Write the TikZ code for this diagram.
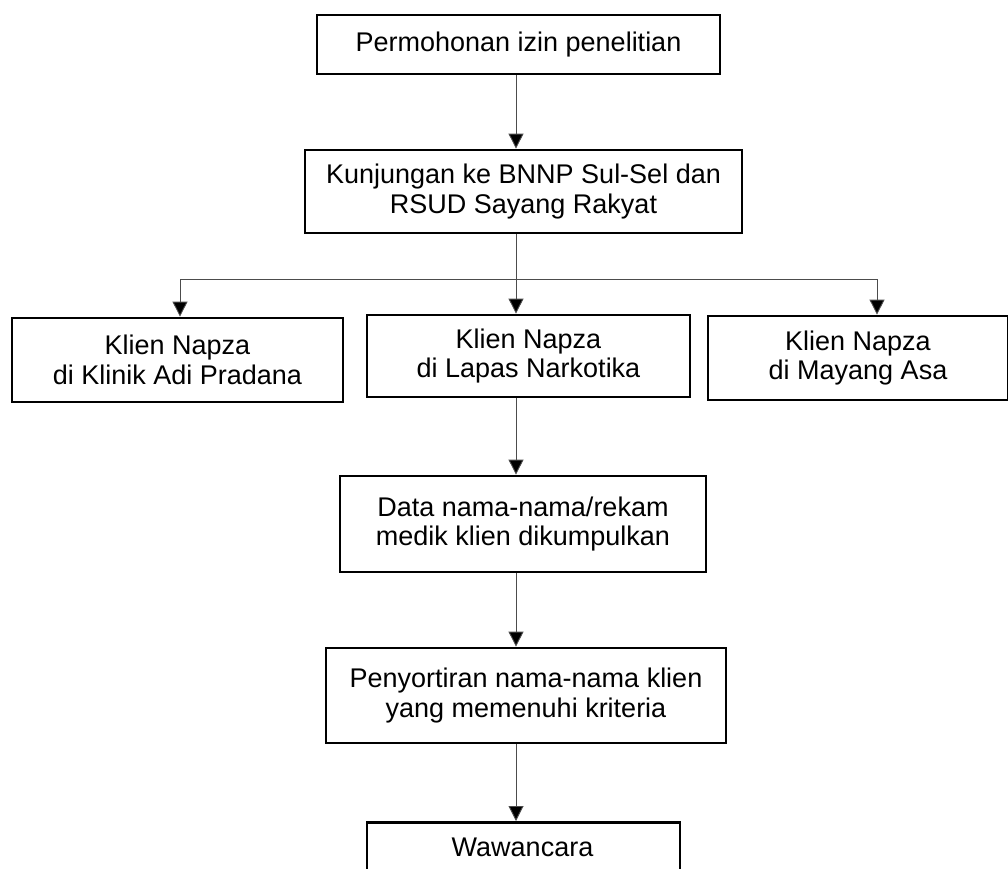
\documentclass[tikz,border=0pt]{standalone}
\usepackage{fontspec}
\setmainfont{Liberation Sans}
\usetikzlibrary{arrows.meta}
\tikzset{
  box/.style={draw=black, line width=2.8pt, rectangle, align=center,
    font=\fontsize{27}{29.5}\selectfont, inner sep=0pt},
  conn/.style={draw=black!70, line width=0.9pt},
  arr/.style={conn, -{Triangle[width=15pt,length=15pt,fill=black]}}
}
\begin{document}
\begin{tikzpicture}[x=1pt,y=-1pt]
\clip (0,0) rectangle (1008,868);
\node[box, minimum width=403pt, minimum height=59pt] (b1) at (518.5,44.5) {Permohonan izin penelitian};
\node[box, minimum width=437pt, minimum height=83pt] (b2) at (523.5,191.5) {Kunjungan ke BNNP Sul-Sel dan\\RSUD Sayang Rakyat};
\node[box, minimum width=331pt, minimum height=84pt] (left) at (177.5,360) {Klien Napza\\di Klinik Adi Pradana};
\node[box, minimum width=323pt, minimum height=82pt] (mid) at (528.5,356) {Klien Napza\\di Lapas Narkotika};
\node[box, minimum width=300pt, minimum height=84pt] (right) at (858,358) {Klien Napza\\di Mayang Asa};
\node[box, minimum width=366pt, minimum height=96pt] (data) at (523,524) {Data nama-nama/rekam\\medik klien dikumpulkan};
\node[box, minimum width=400pt, minimum height=95pt] (sort) at (526,695.5) {Penyortiran nama-nama klien\\yang memenuhi kriteria};
\node[box, minimum width=313pt, minimum height=80pt, anchor=north] (waw) at (523.5,821) {};
\node[font=\fontsize{27}{29.5}\selectfont] (wawt) at (522.5,847) {Wawancara};
\coordinate (ax) at (516,0);
\coordinate (jl) at (180,279);
\coordinate (jr) at (877,279);
\draw[arr] (b1.south -| ax) -- (b2.north -| ax);
\draw[arr] (b2.south -| ax) -- (mid.north -| ax);
\draw[conn] (jl) -- (jr);
\draw[arr] (jl) -- (jl |- left.north);
\draw[arr] (jr) -- (jr |- right.north);
\draw[arr] (mid.south -| ax) -- (data.north -| ax);
\draw[arr] (data.south -| ax) -- (sort.north -| ax);
\draw[arr] (sort.south -| ax) -- (waw.north -| ax);
\end{tikzpicture}
\end{document}
